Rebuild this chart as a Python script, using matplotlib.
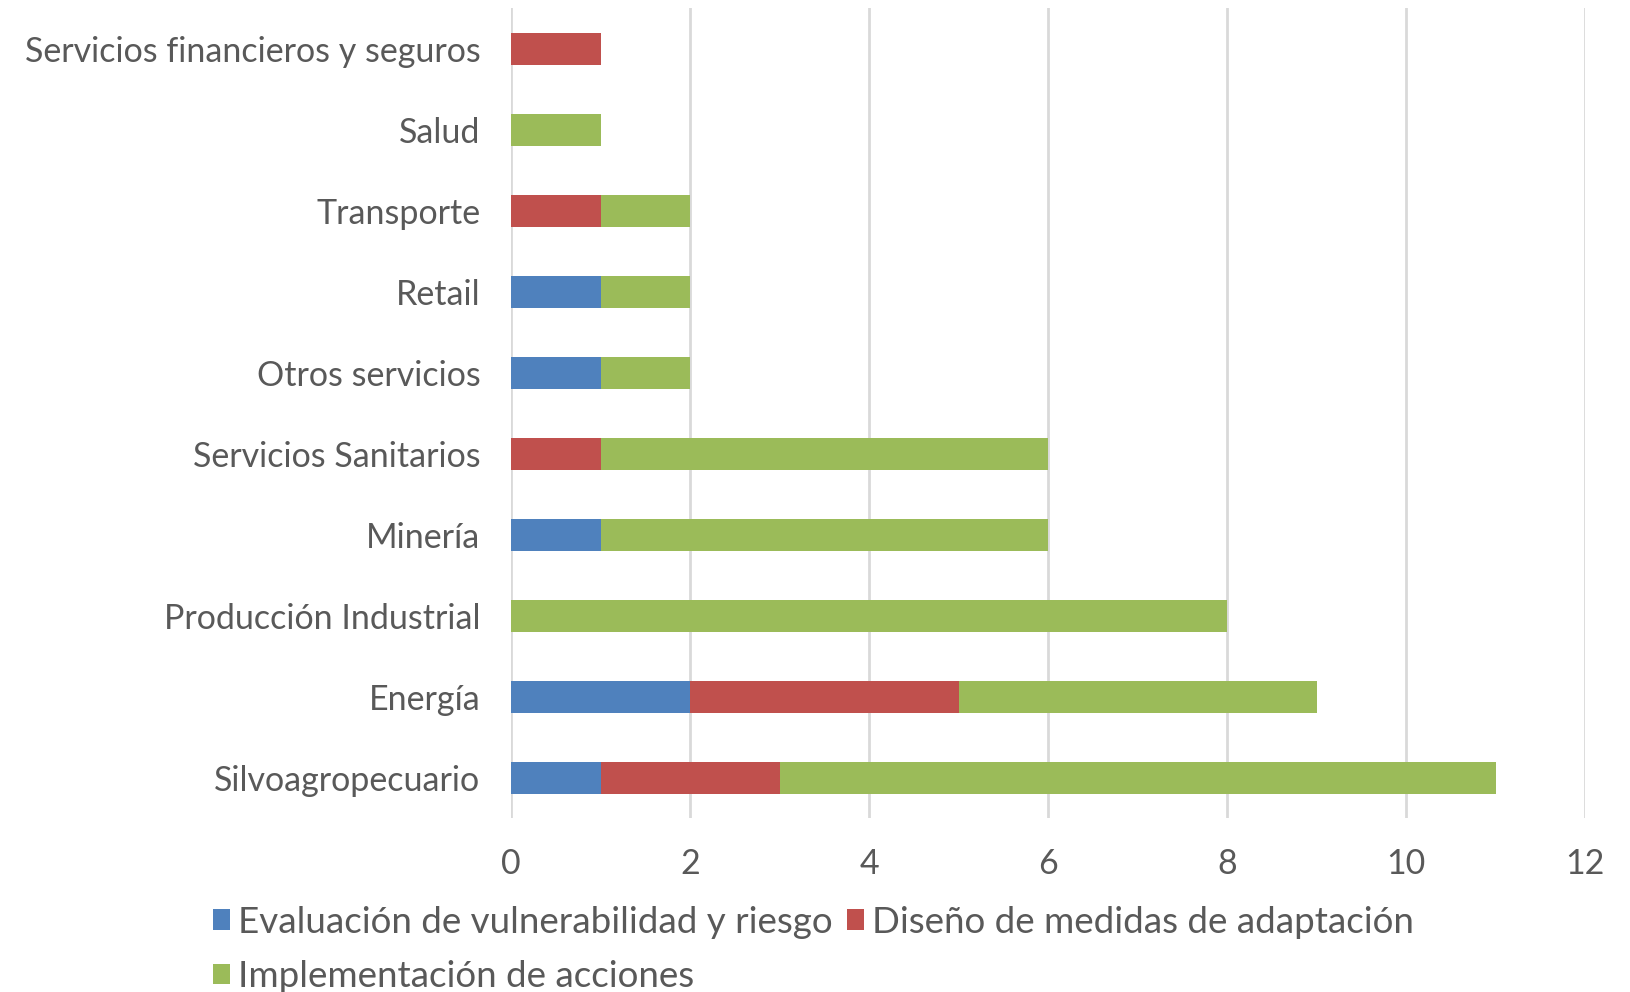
import matplotlib.pyplot as plt
import numpy as np

categories = ["Silvoagropecuario", "Energía", "Producción Industrial", "Minería",
              "Servicios Sanitarios", "Otros servicios", "Retail", "Transporte",
              "Salud", "Servicios financieros y seguros"]
evaluacion = [1, 2, 0, 1, 0, 1, 1, 0, 0, 0]
diseno = [2, 3, 0, 0, 1, 0, 0, 1, 0, 1]
implementacion = [8, 4, 8, 5, 5, 1, 1, 1, 1, 0]
series_names = ["Evaluación de vulnerabilidad y riesgo",
                "Diseño de medidas de adaptación",
                "Implementación de acciones"]
x_ticks = [0, 2, 4, 6, 8, 10, 12]

plt.rcParams['font.family'] = ['Lato', 'DejaVu Sans']
txt = '#595959'

fig = plt.figure(figsize=(16.3, 9.92), dpi=100)
ax = fig.add_axes([0.3135, 0.175, 0.659, 0.8165])

y = np.arange(len(categories))
e = np.array(evaluacion)
d = np.array(diseno)
i = np.array(implementacion)
h = 0.4
b1 = ax.barh(y, e, h, color='#4F81BD', zorder=3)
b2 = ax.barh(y, d, h, left=e, color='#C0504D', zorder=3)
b3 = ax.barh(y, i, h, left=e + d, color='#9BBB59', zorder=3)

ax.set_xlim(0, 12)
ax.set_ylim(-0.5, len(categories) - 0.5)
ax.set_xticks(x_ticks)
ax.set_yticks(y)
ax.set_yticklabels(categories)
ax.tick_params(axis='both', length=0, labelsize=24.5, colors=txt)
ax.tick_params(axis='y', pad=22)
ax.tick_params(axis='x', pad=21)
ax.grid(axis='x', color='#d9d9d9', linewidth=2, zorder=0)
for s in ax.spines.values():
    s.set_visible(False)

leg = fig.legend([b1, b3, b2], [series_names[0], series_names[2], series_names[1]],
                 ncol=2, loc='upper left', bbox_to_anchor=(0.1307, 0.087),
                 frameon=False, fontsize=26.5, handlelength=0.46, handleheight=0.48,
                 handletextpad=0.22, columnspacing=0.4, labelspacing=0.58,
                 borderaxespad=0, borderpad=0)
for t in leg.get_texts():
    t.set_color(txt)

fig.savefig('out.png', dpi=100)
